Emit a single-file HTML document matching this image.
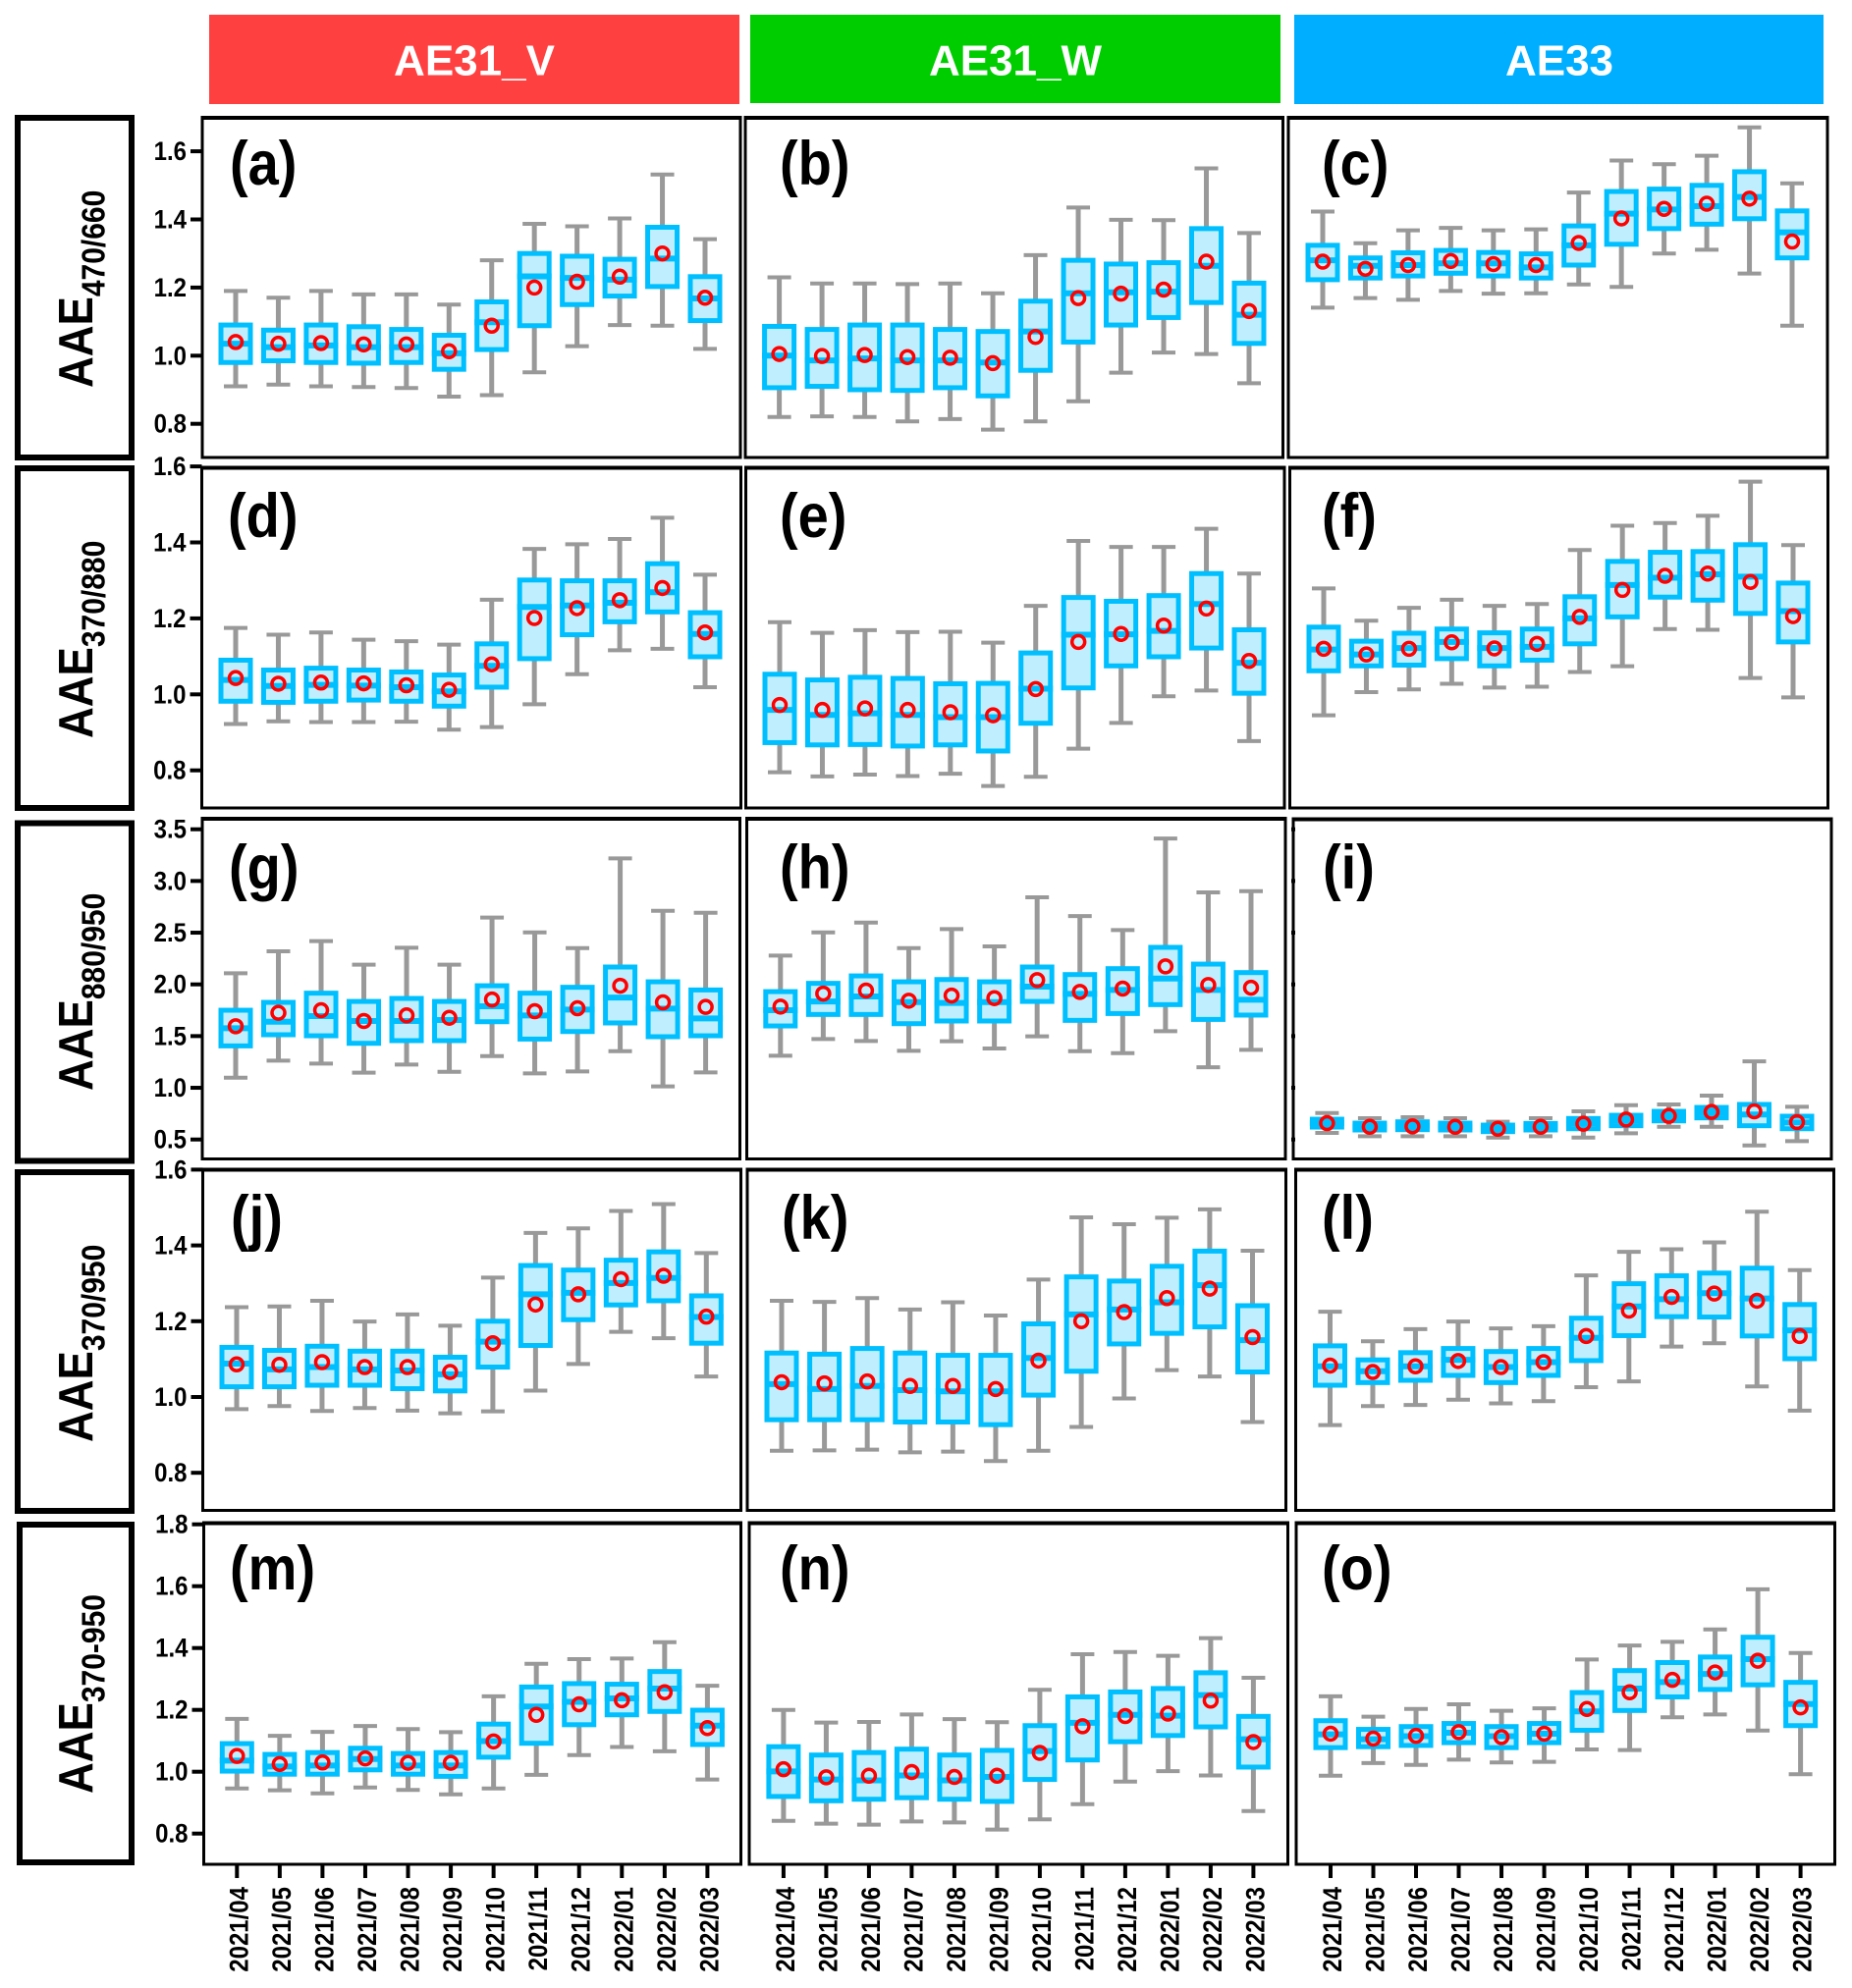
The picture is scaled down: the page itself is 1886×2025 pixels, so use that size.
<!DOCTYPE html>
<html lang="en">
<head>
<meta charset="utf-8">
<title>AAE monthly box plots</title>
<style>
html,body{margin:0;padding:0;background:#fff;}
svg{display:block;}
text{font-family:"Liberation Sans",Arial,sans-serif;font-weight:bold;}
</style>
</head>
<body>
<svg id="chart" xmlns="http://www.w3.org/2000/svg" width="1886" height="2025" viewBox="0 0 1886 2025">
  <rect x="0" y="0" width="1886" height="2025" fill="#ffffff"/>

  <g>
    <rect x="213" y="15" width="540" height="91" fill="#ff4040"/>
    <text x="483" y="76.5" font-size="44" fill="#ffffff" text-anchor="middle">AE31_V</text>
    <rect x="764" y="15" width="540" height="90" fill="#00cd00"/>
    <text x="1034" y="76.5" font-size="44" fill="#ffffff" text-anchor="middle">AE31_W</text>
    <rect x="1318" y="15" width="539" height="91" fill="#00aeff"/>
    <text x="1588" y="76.5" font-size="44" fill="#ffffff" text-anchor="middle">AE33</text>
  </g>

  <g>
    <rect x="18" y="120" width="116" height="346" fill="none" stroke="#000" stroke-width="6"/>
    <text transform="translate(94,395) rotate(-90) scale(1,1.12)" font-size="44">AAE<tspan font-size="30" dy="11">470/660</tspan></text>
    <rect x="18" y="477" width="116" height="346" fill="none" stroke="#000" stroke-width="6"/>
    <text transform="translate(94,752) rotate(-90) scale(1,1.12)" font-size="44">AAE<tspan font-size="30" dy="11">370/880</tspan></text>
    <rect x="18" y="838.5" width="116" height="344" fill="none" stroke="#000" stroke-width="6"/>
    <text transform="translate(94,1111) rotate(-90) scale(1,1.12)" font-size="44">AAE<tspan font-size="30" dy="11">880/950</tspan></text>
    <rect x="18" y="1194" width="116" height="345" fill="none" stroke="#000" stroke-width="6"/>
    <text transform="translate(94,1469) rotate(-90) scale(1,1.12)" font-size="44">AAE<tspan font-size="30" dy="11">370/950</tspan></text>
    <rect x="20" y="1553" width="114" height="344" fill="none" stroke="#000" stroke-width="6"/>
    <text transform="translate(94,1827) rotate(-90) scale(1,1.12)" font-size="44">AAE<tspan font-size="30" dy="11">370-950</tspan></text>
  </g>

  <g id="plots"></g>

  <g font-size="56" fill="#000">
    <text transform="translate(234,188) scale(1,1.13)">(a)</text>
    <text transform="translate(794,188) scale(1,1.13)">(b)</text>
    <text transform="translate(1346,188) scale(1,1.13)">(c)</text>
    <text transform="translate(232,547) scale(1,1.13)">(d)</text>
    <text transform="translate(794,547) scale(1,1.13)">(e)</text>
    <text transform="translate(1346,547) scale(1,1.13)">(f)</text>
    <text transform="translate(233,905) scale(1,1.13)">(g)</text>
    <text transform="translate(794,905) scale(1,1.13)">(h)</text>
    <text transform="translate(1347,905) scale(1,1.13)">(i)</text>
    <text transform="translate(235,1262) scale(1,1.13)">(j)</text>
    <text transform="translate(796,1262) scale(1,1.13)">(k)</text>
    <text transform="translate(1346,1262) scale(1,1.13)">(l)</text>
    <text transform="translate(234,1619) scale(1,1.13)">(m)</text>
    <text transform="translate(794,1619) scale(1,1.13)">(n)</text>
    <text transform="translate(1346,1619) scale(1,1.13)">(o)</text>
  </g>
</svg>

<script>
const months = ["2021/04","2021/05","2021/06","2021/07","2021/08","2021/09","2021/10","2021/11","2021/12","2022/01","2022/02","2022/03"];
const row1Ticks = [1.6,1.4,1.2,1.0,0.8];
const row2Ticks = [1.6,1.4,1.2,1.0,0.8];
const row3Ticks = [3.5,3.0,2.5,2.0,1.5,1.0,0.5];
const row4Ticks = [1.6,1.4,1.2,1.0,0.8];
const row5Ticks = [1.8,1.6,1.4,1.2,1.0,0.8];

const aHigh = [1.19,1.17,1.19,1.18,1.18,1.15,1.28,1.387,1.38,1.403,1.532,1.342];
const aQ3   = [1.09,1.075,1.09,1.085,1.077,1.06,1.158,1.30,1.292,1.283,1.377,1.232];
const aMed  = [1.035,1.025,1.03,1.025,1.025,1.007,1.098,1.233,1.228,1.223,1.285,1.168];
const aQ1   = [0.98,0.985,0.98,0.978,0.98,0.96,1.018,1.088,1.15,1.175,1.203,1.103];
const aLow  = [0.91,0.915,0.91,0.908,0.905,0.88,0.884,0.951,1.028,1.09,1.088,1.02];
const aMean = [1.04,1.035,1.037,1.033,1.033,1.013,1.088,1.20,1.217,1.232,1.30,1.17];

const bHigh = [1.23,1.212,1.212,1.21,1.212,1.183,1.295,1.435,1.399,1.398,1.55,1.36];
const bQ3   = [1.086,1.077,1.09,1.09,1.077,1.071,1.16,1.28,1.269,1.273,1.373,1.213];
const bMed  = [1.0,0.986,0.992,0.986,0.986,0.98,1.071,1.183,1.186,1.188,1.264,1.12];
const bQ1   = [0.906,0.91,0.90,0.898,0.906,0.882,0.957,1.04,1.09,1.112,1.156,1.036];
const bLow  = [0.82,0.822,0.82,0.807,0.814,0.783,0.807,0.866,0.95,1.009,1.005,0.919];
const bMean = [1.005,0.999,1.002,0.996,0.994,0.978,1.055,1.169,1.182,1.194,1.276,1.131];

const cHigh = [1.423,1.33,1.368,1.375,1.368,1.371,1.479,1.573,1.562,1.587,1.67,1.506];
const cQ3   = [1.324,1.287,1.302,1.309,1.303,1.299,1.381,1.482,1.489,1.50,1.54,1.425];
const cMed  = [1.28,1.264,1.266,1.271,1.271,1.259,1.324,1.417,1.429,1.439,1.466,1.362];
const cQ1   = [1.223,1.228,1.234,1.242,1.234,1.228,1.266,1.327,1.373,1.386,1.402,1.287];
const cLow  = [1.141,1.169,1.164,1.19,1.182,1.183,1.209,1.202,1.30,1.311,1.241,1.088];
const cMean = [1.276,1.255,1.266,1.278,1.269,1.266,1.331,1.403,1.431,1.446,1.461,1.335];

const dHigh = [1.175,1.157,1.163,1.144,1.14,1.131,1.249,1.383,1.395,1.409,1.465,1.315];
const dQ3   = [1.09,1.064,1.069,1.064,1.059,1.051,1.133,1.301,1.299,1.299,1.344,1.215];
const dMed  = [1.038,1.022,1.025,1.023,1.019,1.008,1.075,1.23,1.234,1.241,1.269,1.159];
const dQ1   = [0.982,0.979,0.982,0.985,0.982,0.969,1.019,1.094,1.157,1.191,1.217,1.099];
const dLow  = [0.922,0.929,0.927,0.927,0.928,0.907,0.914,0.974,1.053,1.116,1.12,1.019];
const dMean = [1.043,1.028,1.031,1.029,1.024,1.012,1.079,1.201,1.227,1.248,1.28,1.163];

const eHigh = [1.19,1.162,1.169,1.164,1.165,1.136,1.233,1.404,1.388,1.388,1.436,1.318];
const eQ3   = [1.053,1.038,1.045,1.042,1.028,1.029,1.109,1.255,1.245,1.26,1.318,1.17];
const eMed  = [0.959,0.946,0.95,0.946,0.94,0.94,1.015,1.157,1.158,1.167,1.238,1.083];
const eQ1   = [0.873,0.867,0.868,0.864,0.867,0.851,0.924,1.017,1.075,1.099,1.122,1.003];
const eLow  = [0.795,0.784,0.789,0.785,0.791,0.759,0.783,0.857,0.925,0.995,1.01,0.877];
const eMean = [0.972,0.959,0.963,0.959,0.953,0.945,1.014,1.138,1.159,1.181,1.226,1.088];

const fHigh = [1.279,1.194,1.228,1.249,1.233,1.238,1.38,1.444,1.451,1.47,1.56,1.393];
const fQ3   = [1.177,1.14,1.161,1.172,1.162,1.172,1.257,1.35,1.374,1.376,1.394,1.293];
const fMed  = [1.118,1.105,1.122,1.138,1.122,1.125,1.2,1.288,1.307,1.316,1.31,1.219];
const fQ1   = [1.062,1.075,1.077,1.094,1.075,1.09,1.133,1.204,1.256,1.248,1.213,1.138];
const fLow  = [0.945,1.006,1.013,1.028,1.018,1.02,1.059,1.074,1.172,1.17,1.043,0.992];
const fMean = [1.12,1.105,1.12,1.137,1.121,1.133,1.204,1.275,1.312,1.318,1.296,1.206];

const gHigh = [2.108,2.32,2.418,2.19,2.354,2.19,2.646,2.503,2.351,3.218,2.712,2.693];
const gQ3   = [1.75,1.826,1.915,1.835,1.864,1.835,1.987,1.915,1.972,2.168,2.025,1.946];
const gMed  = [1.576,1.639,1.693,1.646,1.646,1.655,1.788,1.699,1.756,1.873,1.766,1.671];
const gQ1   = [1.405,1.513,1.503,1.43,1.456,1.456,1.639,1.471,1.544,1.627,1.494,1.503];
const gLow  = [1.098,1.263,1.234,1.146,1.225,1.155,1.307,1.139,1.158,1.354,1.013,1.149];
const gMean = [1.595,1.725,1.75,1.646,1.70,1.677,1.854,1.741,1.769,1.987,1.826,1.782];

const hHigh = [2.278,2.503,2.598,2.351,2.535,2.367,2.842,2.661,2.525,3.411,2.889,2.902];
const hQ3   = [1.93,2.01,2.082,2.025,2.047,2.025,2.168,2.095,2.152,2.358,2.196,2.114];
const hMed  = [1.75,1.835,1.883,1.829,1.82,1.829,1.978,1.908,1.946,2.057,1.946,1.851];
const hQ1   = [1.598,1.709,1.709,1.62,1.646,1.646,1.835,1.652,1.718,1.804,1.661,1.703];
const hLow  = [1.31,1.472,1.453,1.358,1.45,1.38,1.497,1.354,1.335,1.547,1.199,1.367];
const hMean = [1.785,1.911,1.94,1.842,1.892,1.867,2.041,1.927,1.959,2.174,1.994,1.968];

const iHigh = [0.756,0.706,0.715,0.706,0.671,0.706,0.772,0.832,0.839,0.924,1.256,0.816];
const iQ3   = [0.696,0.658,0.671,0.658,0.639,0.655,0.703,0.734,0.772,0.81,0.839,0.725];
const iMed  = [0.658,0.623,0.633,0.623,0.608,0.623,0.655,0.684,0.728,0.759,0.741,0.665];
const iQ1   = [0.62,0.592,0.595,0.592,0.576,0.592,0.604,0.633,0.68,0.709,0.633,0.604];
const iLow  = [0.563,0.532,0.532,0.532,0.519,0.532,0.519,0.56,0.623,0.623,0.443,0.484];
const iMean = [0.658,0.623,0.627,0.623,0.604,0.623,0.652,0.693,0.728,0.766,0.772,0.668];

const jHigh = [1.237,1.239,1.254,1.199,1.218,1.188,1.315,1.433,1.445,1.491,1.509,1.38];
const jQ3   = [1.131,1.123,1.134,1.121,1.121,1.105,1.20,1.347,1.335,1.361,1.383,1.267];
const jMed  = [1.088,1.073,1.079,1.073,1.07,1.06,1.146,1.271,1.275,1.301,1.314,1.211];
const jQ1   = [1.027,1.027,1.031,1.031,1.022,1.016,1.079,1.136,1.204,1.243,1.254,1.142];
const jLow  = [0.968,0.976,0.963,0.971,0.964,0.957,0.962,1.017,1.087,1.172,1.155,1.054];
const jMean = [1.086,1.085,1.092,1.079,1.079,1.066,1.142,1.244,1.271,1.311,1.32,1.212];

const kHigh = [1.254,1.251,1.261,1.231,1.25,1.215,1.31,1.474,1.456,1.473,1.495,1.386];
const kQ3   = [1.116,1.113,1.128,1.116,1.11,1.11,1.193,1.317,1.306,1.345,1.385,1.241];
const kMed  = [1.034,1.021,1.029,1.018,1.015,1.015,1.103,1.218,1.231,1.25,1.295,1.15];
const kQ1   = [0.94,0.94,0.94,0.934,0.934,0.927,1.005,1.068,1.14,1.168,1.185,1.066];
const kLow  = [0.858,0.859,0.861,0.854,0.856,0.831,0.858,0.921,0.996,1.071,1.054,0.934];
const kMean = [1.039,1.036,1.041,1.029,1.029,1.021,1.096,1.20,1.224,1.261,1.286,1.158];

const lHigh = [1.225,1.147,1.179,1.199,1.181,1.187,1.321,1.383,1.39,1.408,1.489,1.335];
const lQ3   = [1.135,1.098,1.117,1.128,1.12,1.128,1.208,1.299,1.32,1.327,1.34,1.244];
const lMed  = [1.081,1.068,1.081,1.098,1.079,1.092,1.156,1.239,1.258,1.274,1.26,1.176];
const lQ1   = [1.031,1.038,1.044,1.057,1.038,1.057,1.096,1.162,1.212,1.211,1.161,1.101];
const lLow  = [0.926,0.976,0.979,0.993,0.983,0.989,1.026,1.041,1.133,1.142,1.028,0.964];
const lMean = [1.083,1.066,1.081,1.095,1.079,1.092,1.161,1.228,1.264,1.273,1.254,1.161];

const mHigh = [1.171,1.116,1.129,1.148,1.138,1.128,1.244,1.349,1.364,1.366,1.419,1.278];
const mQ3   = [1.091,1.056,1.062,1.076,1.059,1.062,1.154,1.274,1.285,1.283,1.324,1.199];
const mMed  = [1.036,1.017,1.02,1.041,1.02,1.02,1.099,1.211,1.226,1.237,1.269,1.149];
const mQ1   = [1.002,0.992,0.992,1.006,0.992,0.985,1.047,1.092,1.152,1.184,1.195,1.088];
const mLow  = [0.946,0.94,0.93,0.949,0.941,0.927,0.946,0.99,1.054,1.08,1.066,0.975];
const mMean = [1.051,1.025,1.03,1.043,1.029,1.029,1.098,1.184,1.218,1.231,1.257,1.141];

const nHigh = [1.2,1.159,1.161,1.185,1.17,1.16,1.265,1.38,1.387,1.375,1.432,1.304];
const nQ3   = [1.081,1.054,1.062,1.073,1.054,1.069,1.149,1.242,1.258,1.269,1.32,1.179];
const nMed  = [1.001,0.975,0.972,0.988,0.972,0.983,1.067,1.158,1.184,1.181,1.248,1.105];
const nQ1   = [0.92,0.906,0.911,0.916,0.911,0.904,0.975,1.038,1.097,1.117,1.145,1.015];
const nLow  = [0.841,0.832,0.829,0.839,0.836,0.813,0.846,0.895,0.968,1.002,0.988,0.873];
const nMean = [1.008,0.982,0.987,0.999,0.983,0.987,1.061,1.147,1.18,1.188,1.23,1.096];

const oHigh = [1.244,1.178,1.203,1.218,1.197,1.205,1.363,1.408,1.42,1.46,1.59,1.384];
const oQ3   = [1.165,1.137,1.146,1.156,1.146,1.156,1.256,1.327,1.353,1.371,1.435,1.289];
const oMed  = [1.121,1.105,1.115,1.126,1.115,1.123,1.195,1.269,1.29,1.316,1.364,1.219];
const oQ1   = [1.078,1.081,1.085,1.094,1.078,1.094,1.134,1.198,1.242,1.266,1.281,1.149];
const oLow  = [0.987,1.028,1.022,1.039,1.03,1.032,1.072,1.07,1.176,1.185,1.133,0.992];
const oMean = [1.123,1.107,1.116,1.128,1.112,1.123,1.203,1.257,1.297,1.321,1.359,1.208];

const SVG_NS = "http://www.w3.org/2000/svg";
const plots = document.getElementById("plots");

function node(parent, tag, props) {
  const el = document.createElementNS(SVG_NS, tag);
  for (const key in props) el.setAttribute(key, props[key]);
  
  parent.appendChild(el);
  return el;
}

function yAxis(refValue, refPixel, pixelsPerUnit) {
  return function (v) { return refPixel - (v - refValue) * pixelsPerUnit; };
}

function xAxis(first, last, count) {
  return function (i) { return first + i * (last - first) / (count - 1); };
}

function drawYTicks(ticks, y, frameLeft, withLabels) {
  ticks.forEach(function (t) {
    const py = y(t);
    const mark = node(plots, "line", {
      x1: withLabels ? frameLeft - 12 : frameLeft - 2, x2: withLabels ? frameLeft : frameLeft + 2,
      y1: py, y2: py, stroke: "#000", "stroke-width": 4
    });
    
    if (withLabels) {
      const label = node(plots, "text", {
        transform: "translate(" + (frameLeft - 16) + "," + (py + 9) + ") scale(1,1.12)",
        "font-size": 24, "text-anchor": "end", fill: "#000"
      });
      
      label.textContent = t.toFixed(1);
    }
  });
}

function drawXTicks(x, frameBottom) {
  months.forEach(function (m, i) {
    const px = x(i);
    const mark = node(plots, "line", {
      x1: px, x2: px, y1: frameBottom, y2: frameBottom + 14, stroke: "#000", "stroke-width": 4
    });
    
    const label = node(plots, "text", {
      transform: "translate(" + (px + 11) + "," + (frameBottom + 23) + ") rotate(-90) scale(1,1.12)",
      "font-size": 24, "text-anchor": "end", fill: "#000"
    });
    
    label.textContent = m;
  });
}

function drawBoxes(x, y, high, q3, med, q1, low, mean) {
  const boxW = 30, capW = 24;
  months.forEach(function (m, i) {
    const px = x(i);
    const whisker = node(plots, "line", {
      x1: px, x2: px, y1: y(high[i]), y2: y(low[i]), stroke: "#999999", "stroke-width": 5
    });
    
    const capTop = node(plots, "line", {
      x1: px - capW / 2, x2: px + capW / 2, y1: y(high[i]), y2: y(high[i]),
      stroke: "#999999", "stroke-width": 4
    });
    
    const capBottom = node(plots, "line", {
      x1: px - capW / 2, x2: px + capW / 2, y1: y(low[i]), y2: y(low[i]),
      stroke: "#999999", "stroke-width": 4
    });
    
    const box = node(plots, "rect", {
      x: px - boxW / 2, y: y(q3[i]), width: boxW, height: y(q1[i]) - y(q3[i]),
      fill: "#bfefff", stroke: "#00bfff", "stroke-width": 5
    });
    
    const median = node(plots, "line", {
      x1: px - boxW / 2 - 2.5, x2: px + boxW / 2 + 2.5, y1: y(med[i]), y2: y(med[i]),
      stroke: "#00bfff", "stroke-width": 6
    });
    
    const meanMark = node(plots, "circle", {
      cx: px, cy: y(mean[i]), r: 6.5, fill: "none", stroke: "#ff0000", "stroke-width": 3.5
    });
    
  });
}

function drawFrame(left, top, right, bottom) {
  const frame = node(plots, "rect", {
    x: left, y: top, width: right - left, height: bottom - top,
    fill: "none", stroke: "#000", "stroke-width": 3
  });
  
  const topEdge = node(plots, "line", {
    x1: left - 1.5, x2: right + 1.5, y1: top, y2: top, stroke: "#000", "stroke-width": 4
  });
  
}

const y1 = yAxis(1.0, 362.3, 347);
const y2 = yAxis(1.0, 707.3, 387);
const y3 = yAxis(2.0, 1002.7, 105.33);
const y4 = yAxis(1.0, 1423, 386);
const y5 = yAxis(1.0, 1804.7, 315);

const xa = xAxis(240, 718, 12), xb = xAxis(793.6, 1272, 12), xc = xAxis(1347, 1825, 12);
const xd = xAxis(240, 718, 12), xe = xAxis(794, 1272, 12), xf = xAxis(1348, 1826, 12);
const xg = xAxis(240, 718.6, 12), xh = xAxis(794.8, 1274, 12), xi = xAxis(1351.4, 1830, 12);
const xj = xAxis(241, 719.3, 12), xk = xAxis(796, 1275.5, 12), xl = xAxis(1354.5, 1832.7, 12);
const xm = xAxis(241.3, 720.4, 12), xn = xAxis(797.9, 1276.4, 12), xo = xAxis(1355, 1833.6, 12);

drawFrame(206, 120, 754, 466);
drawFrame(759, 120, 1306.5, 466);
drawFrame(1312, 120, 1861, 466);
drawFrame(205.5, 476.5, 754.5, 823);
drawFrame(759.5, 476.5, 1308, 823);
drawFrame(1313.5, 476.5, 1861.5, 823);
drawFrame(206, 834, 753.5, 1180.5);
drawFrame(760.5, 834, 1309, 1180.5);
drawFrame(1317, 834.5, 1865, 1180.5);
drawFrame(206.5, 1191.5, 754.5, 1538.5);
drawFrame(761, 1191.5, 1309.5, 1538.5);
drawFrame(1319.5, 1191.5, 1867.5, 1538.5);
drawFrame(207.5, 1551.5, 754.5, 1899);
drawFrame(763, 1551.5, 1311.5, 1899);
drawFrame(1320, 1551.5, 1868.5, 1899);

drawYTicks(row1Ticks, y1, 206, true);
drawYTicks(row2Ticks, y2, 205.5, true);
drawYTicks(row3Ticks, y3, 206, true);
drawYTicks(row4Ticks, y4, 206.5, true);
drawYTicks(row5Ticks, y5, 207.5, true);
drawYTicks(row3Ticks, y3, 1317, false);

drawBoxes(xa, y1, aHigh, aQ3, aMed, aQ1, aLow, aMean);
drawBoxes(xb, y1, bHigh, bQ3, bMed, bQ1, bLow, bMean);
drawBoxes(xc, y1, cHigh, cQ3, cMed, cQ1, cLow, cMean);
drawBoxes(xd, y2, dHigh, dQ3, dMed, dQ1, dLow, dMean);
drawBoxes(xe, y2, eHigh, eQ3, eMed, eQ1, eLow, eMean);
drawBoxes(xf, y2, fHigh, fQ3, fMed, fQ1, fLow, fMean);
drawBoxes(xg, y3, gHigh, gQ3, gMed, gQ1, gLow, gMean);
drawBoxes(xh, y3, hHigh, hQ3, hMed, hQ1, hLow, hMean);
drawBoxes(xi, y3, iHigh, iQ3, iMed, iQ1, iLow, iMean);
drawBoxes(xj, y4, jHigh, jQ3, jMed, jQ1, jLow, jMean);
drawBoxes(xk, y4, kHigh, kQ3, kMed, kQ1, kLow, kMean);
drawBoxes(xl, y4, lHigh, lQ3, lMed, lQ1, lLow, lMean);
drawBoxes(xm, y5, mHigh, mQ3, mMed, mQ1, mLow, mMean);
drawBoxes(xn, y5, nHigh, nQ3, nMed, nQ1, nLow, nMean);
drawBoxes(xo, y5, oHigh, oQ3, oMed, oQ1, oLow, oMean);

drawXTicks(xm, 1899);
drawXTicks(xn, 1899);
drawXTicks(xo, 1899);
</script>
</body>
</html>
